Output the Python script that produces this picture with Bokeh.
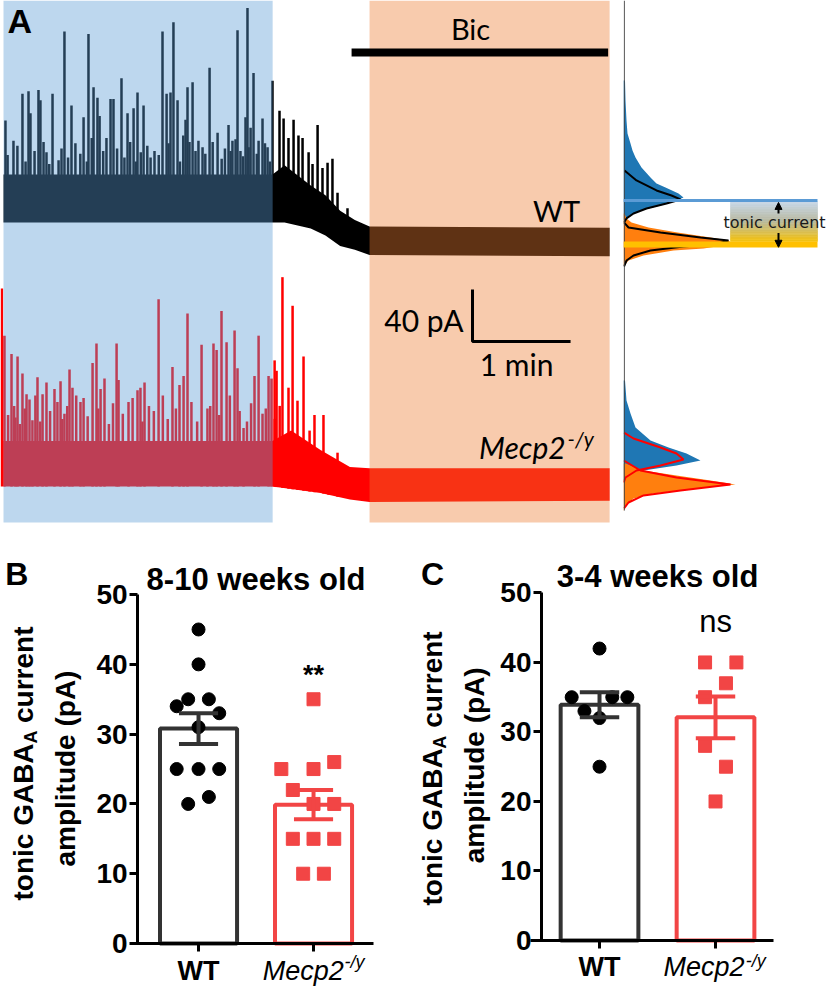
import math
import numpy as np
from bokeh.plotting import figure
from bokeh.layouts import column, row
from bokeh.models import Range1d, Label, FixedTicker, Arrow, NormalHead
from bokeh.embed import file_html
from bokeh.resources import INLINE

# ------------------------------------------------------------------
# Panel A data (time in s, current in pA; KO trace displayed with offset)
# ------------------------------------------------------------------
control_period = [0.0, 164.7]
bic_period = [224.0, 370.9]
bic_bar = [213.0, 370.0]

wt_env_t = [0, 164.6, 172, 188, 197, 206, 215, 224, 370.9]
wt_env_hi = [20, 20, 27, 11.5, 4, -8, -15, -20, -21]
wt_env_lo = [-17, -17, -17, -21.5, -27, -35, -38, -42, -43]

wt_spike_t = [1.2, 6.1, 11.6, 15.3, 16.5, 21.4, 22.6, 26.3, 30.0, 33.7, 37.3, 41.6, 49.0, 52.0,
              55.1, 57.5, 58.8, 63.0, 65.5, 67.3, 72.2, 75.9, 79.6, 82.0, 85.7, 90.0, 92.4, 97.3,
              99.8, 102.2, 104.0, 106.5, 111.4, 112.6, 113.8, 115.7, 119.3, 121.8, 126.1, 131.0,
              137.7, 140.1, 143.2, 145.0, 148.1, 149.3, 151.2, 153.0, 156.1, 158.5, 161.6, 164.6,
              168.9, 171.4, 174.4, 177.5, 180.5, 183.0, 186.7, 189.1, 192.2, 195.2, 198.3, 201.3,
              204.4, 210.5]
wt_spike_peak = [61.5, 46, 82, 84, 67, 85, 77, 37, 82, 31, 130, 73, 64, 128, 87, 79, 65, 48, 78, 78,
                 94, 67, 71, 83, 73, 33, 38, 130, 82, 83, 137, 77, 62, 87, 45, 91, 46, 41, 102, 52,
                 58, 46, 131, 38, 64, 148, 56, 98, 46, 63, 41, 92, 69, 63, 48, 62, 50, 48, 37, 28,
                 58, 25, 29, 32, 6, -6]
# smaller events between the large ones
wt_small_t = [2.5, 8.5, 13.5, 19, 24.5, 28, 35.5, 39.5, 44, 47, 51, 54, 61, 69.5, 74, 77.5, 81, 84,
              88, 95, 101, 108, 110, 117.5, 123.5, 128, 133.5, 135.5, 139, 142, 146.5, 150, 155,
              160, 163]
wt_small_peak = [35, 42, 30, 38, 45, 28, 40, 33, 44, 36, 30, 48, 38, 40, 33, 45, 30, 37, 42, 35, 44,
                 30, 50, 38, 36, 45, 32, 40, 38, 47, 34, 41, 36, 44, 30]

ko_env_t = [0, 164.6, 176, 194, 212, 224, 370.9]
ko_env_hi = [-185, -185, -177, -192, -205, -206, -206]
ko_env_lo = [-220, -220, -222, -225, -230, -232, -231]

ko_spike_t = [-1.0, 0.6, 4.9, 7.3, 8.6, 11.6, 14.1, 15.9, 17.7, 20.8, 23.9, 26.3, 31.2, 34.9, 37.3,
              40.4, 42.2, 47.1, 49.0, 54.5, 56.9, 59.4, 61.8, 69.2, 70.4, 76.5, 82.0, 83.8, 86.3,
              94.9, 103.4, 107.7, 110.2, 112.6, 121.2, 124.8, 128.5, 130.4, 133.4, 136.5, 141.4,
              143.2, 146.9, 153.6, 156.1, 162.2, 164.0, 165.9, 167.1, 170.7, 174.4, 176.9, 179.9,
              183.6, 187.3, 190.3, 195.8, 198.9, 204.4]
ko_spike_peak = [-67.7, -104, -118, -167, -120, -133, -149, -153, -169, -136, -149, -140, -145, -139,
                 -164, -130, -144, -155, -152, -125, -110, -145, -137, -110, -138, -155, -146, -144,
                 -140, -76, -128, -142, -135, -87, -111, -160, -110, -115, -85, -109, -100, -129,
                 -175, -135, -104, -135, -137, -123, -131, -59, -144, -81, -154, -120, -177, -165,
                 -165, -198, -194]
ko_small_t = [2.8, 6.5, 10, 13, 19.5, 22.5, 28.5, 33, 36, 39, 44.5, 51.5, 58, 64.5, 67, 73, 79, 85,
              89, 92, 97.5, 100.5, 105.5, 115, 118.5, 126.5, 132, 138.5, 144.5, 149, 151.5, 158.5,
              160.5, 166, 169]
ko_small_peak = [-165, -158, -172, -160, -150, -170, -162, -155, -168, -158, -150, -166, -160, -172,
                 -156, -164, -152, -170, -158, -162, -150, -168, -160, -155, -170, -158, -165, -150,
                 -162, -170, -156, -164, -160, -168, -158]

# all-points histograms (current level in pA, counts in arbitrary units)
wt_ctrl_hist_v = [92.3, 76.9, 61.5, 51.5, 43.8, 38.5, 33.1, 25.4, 17.7, 13.1, 10.0, 5.4, 2.3, 0.0, -3.8, -7.7, -11.5, -15.4]
wt_ctrl_hist_n = [1.5, 2, 3, 4, 7, 9, 12, 18, 27, 33, 42, 55, 60, 53, 37, 17, 6, 1]
wt_bic_hist_v = [-10, -13.8, -16.9, -20.8, -24.6, -28.5, -30.8, -32.3, -34.6, -36.9, -38.5, -42.3, -46.2, -50]
wt_bic_hist_n = [1, 3, 8, 25, 54, 87, 105, 107, 100, 80, 50, 20, 5, 1]
wt_ctrl_fit_v = [23.1, 15.4, 7.7, 3.8, 0.8, -2.3, -6.2, -10, -13.8, -16.9]
wt_ctrl_fit_n = [1, 13, 33, 48, 57, 43, 23, 10, 3, 0.5]
wt_bic_fit_v = [-16.9, -20.8, -24.6, -28.5, -30.8, -33.1, -35.4, -38.5, -42.3, -46.2, -50.8]
wt_bic_fit_n = [0.5, 5, 37, 77, 105, 95, 60, 27, 10, 3, 0.5]

ko_ctrl_hist_v = [-138.5, -153.8, -163.8, -174.6, -184.6, -190, -194.6, -200, -203.8, -207.7, -211.5, -215.4]
ko_ctrl_hist_n = [1.5, 3, 7, 12, 27, 45, 63, 77, 53, 20, 5, 1]
ko_bic_hist_v = [-202.3, -207.7, -211.5, -215.4, -218.5, -221.5, -225.4, -229.2, -234.6, -238.5]
ko_bic_hist_n = [2, 20, 53, 87, 112, 73, 30, 10, 2, 0.5]
ko_ctrl_fit_v = [-178.5, -183.1, -190, -194.6, -199.2, -203.8, -207.7, -213.1, -216.9]
ko_ctrl_fit_n = [0.5, 10, 37, 53, 60, 37, 13, 2, 0.3]
ko_bic_fit_v = [-200, -207.7, -213.1, -218.5, -223.1, -226.9, -232.3, -236.9]
ko_bic_fit_n = [0.3, 17, 53, 107, 57, 20, 5, 0.5]

wt_ctrl_mode = 0.0     # pA, WT holding current before Bic
wt_bic_mode = -33.8    # pA, WT holding current in Bic

# ------------------------------------------------------------------
# Panels B / C data (tonic GABA_A current amplitude, pA)
# ------------------------------------------------------------------
groups = ["WT", "Mecp2"]
b_wt = [45, 40, 34, 35, 35, 33, 31, 25, 25, 25, 20, 21]
b_ko = [35, 25, 25, 26, 22, 20, 20, 15, 15, 15, 10, 10]
b_mean = [30.8, 19.9]
b_sem = [2.2, 2.1]
c_wt = [42, 35, 35, 35, 33, 32, 25]
c_ko = [40, 40, 37, 35, 28, 25, 20]
c_mean = [33.9, 32.1]
c_sem = [1.8, 3.0]
y_ticks = [0, 10, 20, 30, 40, 50]
# horizontal scatter arrangement of points (layout only)
b_wt_dx = [0, 0, -0.19, -0.09, 0.09, 0.18, 0, -0.19, 0, 0.18, -0.09, 0.09]
b_ko_dx = [0, -0.28, 0, 0.18, -0.18, 0, 0.18, -0.18, 0, 0.18, -0.09, 0.09]
c_wt_dx = [0, -0.24, 0.11, 0.24, -0.13, 0, 0]
c_ko_dx = [-0.09, 0.18, 0.09, -0.09, -0.09, 0.09, 0]

WT_COL = "#333333"
KO_COL = "#f24545"
A_FONT = "Lato"
B_FONT = "Liberation Sans"


def lab(p, x, y, text, size, font=B_FONT, style="normal", align="center",
        baseline="middle", angle=0.0, color="black"):
    p.add_layout(Label(x=x, y=y, text=text, text_font=font, text_font_size=f"{size}px",
                       text_font_style=style, text_align=align, text_baseline=baseline,
                       angle=angle, text_color=color))


# ------------------------------------------------------------------
# Panel A - traces
# ------------------------------------------------------------------
YA = (-250.0, 153.8)
pa = figure(width=623, height=525, x_range=Range1d(-1.84, 379.4), y_range=Range1d(*YA),
            toolbar_location=None, output_backend="svg", min_border=0)
pa.axis.visible = False
pa.grid.visible = False
pa.outline_line_color = None

pa.varea(x=wt_env_t, y1=wt_env_lo, y2=wt_env_hi, fill_color="black")
wt_base = np.interp(wt_spike_t, wt_env_t, wt_env_hi) - 3
pa.segment(x0=wt_spike_t, y0=wt_base, x1=wt_spike_t, y1=wt_spike_peak, line_color="black", line_width=2.5)
wt_sbase = np.interp(wt_small_t, wt_env_t, wt_env_hi) - 3
pa.segment(x0=wt_small_t, y0=wt_sbase, x1=wt_small_t, y1=wt_small_peak, line_color="black", line_width=2.5)

pa.varea(x=ko_env_t, y1=ko_env_lo, y2=ko_env_hi, fill_color="#ff0000")
ko_base = np.interp(ko_spike_t, ko_env_t, ko_env_lo)
pa.segment(x0=ko_spike_t, y0=ko_base, x1=ko_spike_t, y1=ko_spike_peak, line_color="#ff0000", line_width=2.5)
ko_sbase = np.interp(ko_small_t, ko_env_t, ko_env_hi) - 3
pa.segment(x0=ko_small_t, y0=ko_sbase, x1=ko_small_t, y1=ko_small_peak, line_color="#ff0000", line_width=2.5)

# treatment-period shading (semi-transparent, over the traces)
pa.quad(left=[control_period[0]], right=[control_period[1]], bottom=[-247.7], top=[YA[1]],
        fill_color="#5b9bd5", fill_alpha=0.4, line_color=None)
pa.quad(left=[bic_period[0]], right=[bic_period[1]], bottom=[-247.7], top=[YA[1]],
        fill_color="#ed7d31", fill_alpha=0.4, line_color=None)

# bicuculline application bar
pa.segment(x0=[bic_bar[0]], y0=[113.8], x1=[bic_bar[1]], y1=[113.8], line_color="black", line_width=8)
lab(pa, 285.8, 132.3, "Bic", 29, font=A_FONT)

# scale bar 40 pA / 1 min
pa.line(x=[287, 287, 347], y=[-68.5, -108.5, -108.5], line_color="black", line_width=3)
lab(pa, 281.5, -92.3, "40 pA", 30, font=A_FONT, align="right")
lab(pa, 314, -125.4, "1 min", 30, font=A_FONT)

lab(pa, 338.5, -7.7, "WT", 29, font=A_FONT)
lab(pa, 344, -190, "Mecp2", 30, font=A_FONT, style="italic", align="right")
lab(pa, 345.2, -183, "-/y", 21, font=A_FONT, style="italic", align="left")

lab(pa, 2.5, 138, "A", 34, style="bold", align="left")

# ------------------------------------------------------------------
# Panel A - all-points histograms
# ------------------------------------------------------------------
ph = figure(width=205, height=525, x_range=Range1d(0, 205), y_range=pa.y_range,
            toolbar_location=None, output_backend="svg", min_border=0)
ph.axis.visible = False
ph.grid.visible = False
ph.outline_line_color = None

ph.harea(y=wt_ctrl_hist_v, x1=0, x2=wt_ctrl_hist_n, fill_color="#1f77b4")
ph.harea(y=wt_bic_hist_v, x1=0, x2=wt_bic_hist_n, fill_color="#ff7f0e")
ph.line(x=wt_ctrl_fit_n, y=wt_ctrl_fit_v, line_color="black", line_width=2)
ph.line(x=wt_bic_fit_n, y=wt_bic_fit_v, line_color="black", line_width=2)

ph.harea(y=ko_ctrl_hist_v, x1=0, x2=ko_ctrl_hist_n, fill_color="#1f77b4")
ph.harea(y=ko_bic_hist_v, x1=0, x2=ko_bic_hist_n, fill_color="#ff7f0e")
ph.line(x=ko_ctrl_fit_n, y=ko_ctrl_fit_v, line_color="red", line_width=2)
ph.line(x=ko_bic_fit_n, y=ko_bic_fit_v, line_color="red", line_width=2)

ph.segment(x0=[0.8], y0=[YA[1]], x1=[0.8], y1=[-238.5], line_color="#444444", line_width=1)

# tonic current box (gradient from blue-grey to gold)
stops = [(200, 216, 232), (185, 186, 160), (242, 194, 20)]
nstrip = 24
top_v = wt_ctrl_mode - 1.0
bot_v = wt_bic_mode + 2.3
for i in range(nstrip):
    f = i / (nstrip - 1)
    if f < 0.5:
        a, b, g = stops[0], stops[1], f / 0.5
    else:
        a, b, g = stops[1], stops[2], (f - 0.5) / 0.5
    col = "#%02x%02x%02x" % tuple(int(a[k] + (b[k] - a[k]) * g) for k in range(3))
    t0 = top_v + (bot_v - top_v) * i / nstrip
    t1 = top_v + (bot_v - top_v) * (i + 1) / nstrip
    ph.quad(left=[107], right=[194], top=[t0], bottom=[t1], fill_color=col,
            line_color=col, line_width=0.6)
ph.segment(x0=[0], y0=[wt_bic_mode], x1=[194], y1=[wt_bic_mode], line_color="#ffc000", line_width=6)
ph.segment(x0=[0], y0=[wt_ctrl_mode], x1=[194], y1=[wt_ctrl_mode], line_color="#5b9bd5", line_width=3)

ph.add_layout(Arrow(end=NormalHead(size=7, fill_color="black", line_color="black"),
                    x_start=155, y_start=-10, x_end=155, y_end=-1.5, line_width=2))
ph.add_layout(Arrow(end=NormalHead(size=7, fill_color="black", line_color="black"),
                    x_start=155, y_start=-25, x_end=155, y_end=-36, line_width=2))
lab(ph, 151, -17.3, "tonic current", 16, font="DejaVu Sans", color="#1a1a1a")


# ------------------------------------------------------------------
# Panels B and C  (frame fills the figure; axes at fixed data locations)
# ------------------------------------------------------------------
def bar_panel(xr, yr, yaxis_x, xaxis_bounds, wt, ko, wt_dx, ko_dx, mean, sem):
    p = figure(width=414, height=461, x_range=Range1d(*xr), y_range=Range1d(*yr),
               toolbar_location=None, output_backend="svg", min_border=0)
    p.grid.visible = False
    p.outline_line_color = None
    p.yaxis.fixed_location = yaxis_x
    p.yaxis.bounds = (y_ticks[0], y_ticks[-1])
    p.xaxis.fixed_location = 0
    p.xaxis.bounds = xaxis_bounds
    p.yaxis.ticker = FixedTicker(ticks=y_ticks)
    p.xaxis.ticker = FixedTicker(ticks=[0, 1])
    p.yaxis.major_label_text_font = B_FONT
    p.yaxis.major_label_text_font_style = "bold"
    p.yaxis.major_label_text_font_size = "28px"
    p.yaxis.major_label_text_color = "black"
    p.yaxis.major_label_standoff = 2
    p.xaxis.major_label_text_alpha = 0
    for ax in (p.xaxis[0], p.yaxis[0]):
        ax.axis_line_width = 3
        ax.axis_line_color = "black"
        ax.major_tick_line_width = 3
        ax.major_tick_line_color = "black"
        ax.major_tick_out = 8
        ax.major_tick_in = 0
        ax.minor_tick_out = 0
        ax.minor_tick_in = 0

    p.vbar(x=[0, 1], top=mean, width=0.67, fill_color="white",
           line_color=[WT_COL, KO_COL], line_width=4)
    p.scatter(x=[0 + d for d in wt_dx], y=wt, marker="circle", size=13, color="black")
    p.scatter(x=[1 + d for d in ko_dx], y=ko, marker="square", size=13, color=KO_COL)
    lo = [m - s for m, s in zip(mean, sem)]
    hi = [m + s for m, s in zip(mean, sem)]
    cols = [WT_COL, KO_COL]
    p.segment(x0=[0, 1], y0=lo, x1=[0, 1], y1=hi, line_color=cols, line_width=4)
    p.segment(x0=[-0.17, 0.83], y0=lo, x1=[0.17, 1.17], y1=lo, line_color=cols, line_width=4)
    p.segment(x0=[-0.17, 0.83], y0=hi, x1=[0.17, 1.17], y1=hi, line_color=cols, line_width=4)
    return p


pb = bar_panel((-1.722, 1.878), (-6.16, 59.9), -0.53, (-0.59, 1.52),
               b_wt, b_ko, b_wt_dx, b_ko_dx, b_mean, b_sem)
lab(pb, -1.68, 52.9, "B", 32, style="bold", align="left")
lab(pb, 0.5, 52.15, "8-10 weeks old", 31, style="bold")
lab(pb, 1.0, 38.5, "**", 27, style="bold")
lab(pb, 0, -4.0, "WT", 27, style="bold")
lab(pb, 1.264, -3.95, "Mecp2", 27, style="italic", align="right")
lab(pb, 1.27, -2.7, "-/y", 18, style="italic", align="left")
lab(pb, -1.52, 6.16, "tonic GABA", 28, style="bold", align="left", angle=math.pi / 2)
lab(pb, -1.455, 28.65, "A", 18, style="bold", align="left", angle=math.pi / 2)
lab(pb, -1.52, 31.6, "current", 28, style="bold", align="left", angle=math.pi / 2)
lab(pb, -1.157, 25.07, "amplitude (pA)", 28, style="bold", angle=math.pi / 2)

pc = bar_panel((-1.595, 1.974), (-6.62, 59.7), -0.5, (-0.595, 1.5),
               c_wt, c_ko, c_wt_dx, c_ko_dx, c_mean, c_sem)
lab(pc, -1.54, 52.7, "C", 32, style="bold", align="left")
lab(pc, 0.5, 52.4, "3-4 weeks old", 31, style="bold")
lab(pc, 1.0, 45.9, "ns", 31)
lab(pc, 0, -3.75, "WT", 27, style="bold")
lab(pc, 1.25, -3.75, "Mecp2", 27, style="italic", align="right")
lab(pc, 1.26, -2.9, "-/y", 18, style="italic", align="left")
lab(pc, -1.44, 5.04, "tonic GABA", 28, style="bold", align="left", angle=math.pi / 2)
lab(pc, -1.375, 27.6, "A", 18, style="bold", align="left", angle=math.pi / 2)
lab(pc, -1.44, 30.6, "current", 28, style="bold", align="left", angle=math.pi / 2)
lab(pc, -1.078, 25.2, "amplitude (pA)", 28, style="bold", angle=math.pi / 2)

layout = column(row(pa, ph), row(pb, pc))
open("out.html", "w").write(file_html(layout, INLINE))
